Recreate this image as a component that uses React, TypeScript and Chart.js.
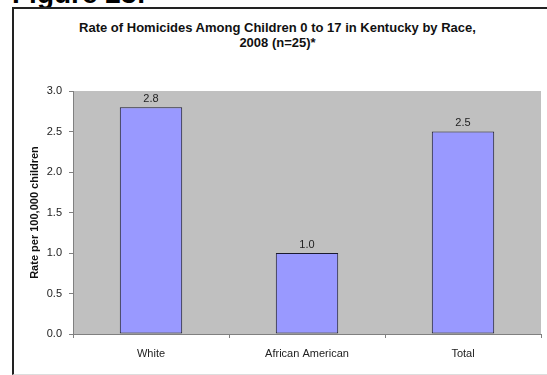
import React, { useEffect, useRef } from "react";
import { Chart, registerables } from "chart.js";

Chart.register(...registerables);

const categories = ["White", "African American", "Total"];
const rates = [2.8, 1.0, 2.5];
const yTicks = [0, 0.5, 1.0, 1.5, 2.0, 2.5, 3.0];
const titleLines = [
  "Rate of Homicides Among Children 0 to 17 in Kentucky by Race,",
  "2008 (n=25)*",
];
const yTitle = "Rate per 100,000 children";

const FONT = "'Liberation Sans', Arial, sans-serif";

export default function App() {
  const ref = useRef<HTMLCanvasElement | null>(null);

  useEffect(() => {
    if (!ref.current) return;
    const bgPlugin = {
      id: "plotBg",
      beforeDraw(chart: any) {
        const { ctx, chartArea } = chart;
        ctx.save();
        ctx.fillStyle = "#c0c0c0";
        ctx.fillRect(chartArea.left, chartArea.top, chartArea.right - chartArea.left, chartArea.bottom - chartArea.top);
        ctx.restore();
      },
    };
    const labelPlugin = {
      id: "valLabels",
      afterDatasetsDraw(chart: any) {
        const { ctx } = chart;
        const meta = chart.getDatasetMeta(0);
        ctx.save();
        ctx.font = `11px ${FONT}`;
        ctx.fillStyle = "#222";
        ctx.textAlign = "center";
        ctx.textBaseline = "bottom";
        meta.data.forEach((el: any, i: number) => {
          ctx.fillText(rates[i].toFixed(1), el.x, el.y - 3);
        });
        ctx.restore();
      },
    };
    const chart = new Chart(ref.current, {
      type: "bar",
      data: {
        labels: categories,
        datasets: [
          {
            data: rates,
            backgroundColor: "#9999ff",
            borderColor: "#1a1a2e",
            borderWidth: 1,
            borderSkipped: false,
            barPercentage: 0.4,
            categoryPercentage: 1,
          },
        ],
      },
      options: {
        animation: false,
        responsive: false,
        devicePixelRatio: 1,
        layout: { padding: { top: 91, right: 6, bottom: 0, left: 0 } },
        plugins: {
          legend: { display: false },
          tooltip: { enabled: false },
          title: { display: false },
        },
        scales: {
          x: {
            grid: { drawOnChartArea: false, drawTicks: true, tickLength: 4, color: "#808080", offset: true },
            border: { display: true, color: "#808080" },
            ticks: { color: "#222", font: { family: FONT, size: 11 }, padding: 9, maxRotation: 0 },
            afterFit(scale: any) {
              scale.height = 41;
            },
          },
          y: {
            min: 0,
            max: 3,
            afterBuildTicks(scale: any) {
              scale.ticks = yTicks.map((v) => ({ value: v }));
            },
            grid: { drawOnChartArea: false, drawTicks: true, tickLength: 4, color: "#808080" },
            border: { display: true, color: "#808080" },
            ticks: {
              color: "#222",
              font: { family: FONT, size: 11 },
              padding: 7,
              callback: (v: any) => Number(v).toFixed(1),
            },
            title: {
              display: true,
              text: yTitle,
              color: "#111",
              font: { family: FONT, size: 11, weight: "bold" },
              padding: { top: 28, bottom: 0 },
            },
            afterFit(scale: any) {
              scale.width = 73;
            },
          },
        },
      },
      plugins: [bgPlugin, labelPlugin],
    });
    return () => chart.destroy();
  }, []);

  return (
    <div
      style={{
        position: "absolute",
        left: 0,
        top: 0,
        width: 547,
        height: 375,
        overflow: "hidden",
        background: "#fff",
        fontFamily: FONT,
      }}
    >
      <div
        style={{
          position: "absolute",
          left: 12,
          top: -20,
          fontSize: 28,
          lineHeight: "28px",
          fontWeight: "bold",
          color: "#000",
          whiteSpace: "nowrap",
        }}
      >
        Figure 23:
      </div>
      <div
        style={{
          position: "absolute",
          left: 12,
          top: 7,
          width: 600,
          height: 365,
          borderLeft: "2px solid #222",
          borderTop: "2px solid #222",
          borderBottom: "1px solid #ddd",
        }}
      />
      <div
        style={{
          position: "absolute",
          left: 14,
          width: 527,
          top: 20,
          textAlign: "center",
          fontSize: 13,
          fontWeight: "bold",
          lineHeight: "15px",
          color: "#111",
        }}
      >
        {titleLines.map((t, i) => (
          <div key={i}>{t}</div>
        ))}
      </div>
      <canvas ref={ref} width={547} height={375} style={{ position: "absolute", left: 0, top: 0, width: 547, height: 375 }} />
    </div>
  );
}
